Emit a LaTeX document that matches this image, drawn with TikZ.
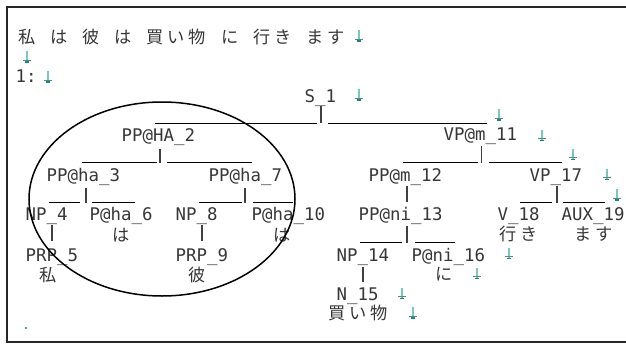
\documentclass[tikz,border=0pt]{standalone}
\usepackage{fontspec}
\setmonofont{DejaVu Sans Mono}
\newfontfamily\jfont{Noto Sans CJK JP}
\definecolor{txt}{RGB}{55,55,55}
\definecolor{retc}{RGB}{120,200,190}
\definecolor{retd}{RGB}{25,135,125}
\newcommand\jc[1]{\makebox[21pt][c]{#1}}
\newcommand\jsp{\hspace{11.2pt}}
\tikzset{
  lbl/.style={anchor=base west, inner sep=0pt, text=txt, font=\ttfamily\fontsize{17.4}{20}\selectfont},
  jp/.style={anchor=base west, inner sep=0pt, text=txt, font=\jfont\fontsize{17.2}{20}\selectfont},
  conn/.style={draw=black!75, line width=1.4pt},
  hbar/.style={draw=black, line width=1pt},
  retmark/.pic={
    \draw[retc, line width=2.4pt] (0,-6) -- (0,4);
    \draw[retc!70!black, line width=0.9pt] (-4,3.2) -- (4,3.2);
    \draw[retd, line width=1.8pt] (-1.6,5) -- (1.6,5);
  }
}
\begin{document}
\begin{tikzpicture}[x=1pt,y=-1pt]
\useasboundingbox (0,0) rectangle (626,345);
\fill[white] (0,0) rectangle (626,345);
% frame (open at the right)
\draw[black!85, line width=2pt] (660,7) -- (7,7) -- (7,342) -- (660,342);

% sentence and labels
\node[jp] (sent) at (16,44) {\jc{私}\jsp\jc{は}\jsp\jc{彼}\jsp\jc{は}\jsp\jc{買}\jc{い}\jc{物}\jsp\jc{に}\jsp\jc{行}\jc{き}\jsp\jc{ま}\jc{す}};
\node[lbl] (lab) at (15.5,82) {1:};

% tree nodes
\node[lbl] (s1)   at (304.5,102) {S\_1};
\node[lbl] (pp2)  at (121.5,141) {PP@HA\_2};
\node[lbl] (vp11) at (443.5,140) {VP@m\_11};
\node[lbl] (pp3)  at (46.5,181)  {PP@ha\_3};
\node[lbl] (pp7)  at (208.5,181) {PP@ha\_7};
\node[lbl] (pp12) at (368.5,181) {PP@m\_12};
\node[lbl] (vp17) at (529.5,181) {VP\_17};
\node[lbl] (np4)  at (25.5,220)  {NP\_4};
\node[lbl] (p6)   at (89.5,220)  {P@ha\_6};
\node[lbl] (np8)  at (175.5,220) {NP\_8};
\node[lbl] (p10)  at (251.5,220) {P@ha\_10};
\node[lbl] (pp13) at (358.5,220) {PP@ni\_13};
\node[lbl] (v18)  at (497.5,220) {V\_18};
\node[lbl] (aux19) at (561.5,220) {AUX\_19};
\node[lbl] (prp5) at (25.5,261)  {PRP\_5};
\node[lbl] (prp9) at (175.5,261) {PRP\_9};
\node[lbl] (np14) at (336.5,261) {NP\_14};
\node[lbl] (p16)  at (411.5,261) {P@ni\_16};
\node[lbl] (n15)  at (336.5,300) {N\_15};

% words
\node[jp] (w6)  at (110.5,241) {\jc{は}};
\node[jp] (w10) at (271.5,241) {\jc{は}};
\node[jp] (w18) at (497.5,240) {\jc{行}\jc{き}};
\node[jp] (w19) at (572.5,240) {\jc{ま}\jc{す}};
\node[jp] (w5)  at (37,281)    {\jc{私}};
\node[jp] (w9)  at (186.5,281) {\jc{彼}};
\node[jp] (w16) at (433,280)   {\jc{に}};
\node[jp] (w15) at (326,319)   {\jc{買}\jc{い}\jc{物}};

% connector points
\coordinate (s1t) at (321,106);   \coordinate (s1m) at (321,123.3);
\coordinate (s1l) at (155,123.3); \coordinate (s1a) at (317,123.3);
\coordinate (s1b) at (328,123.3); \coordinate (s1r) at (487,123.3);

\coordinate (p2t) at (160,149);   \coordinate (p2m) at (160,163);
\coordinate (p2l) at (82,162.7);  \coordinate (p2a) at (157,162.7);
\coordinate (p2b) at (167,162.7); \coordinate (p2r) at (252,162.7);

\coordinate (v11t) at (481.5,146);  \coordinate (v11m) at (481.5,163);
\coordinate (v11l) at (403,162.7);  \coordinate (v11a) at (478,162.7);
\coordinate (v11b) at (489,162.7);  \coordinate (v11r) at (562,162.7);

\coordinate (p3t) at (86,188);    \coordinate (p3m) at (86,203);
\coordinate (p3l) at (49,202.7);  \coordinate (p3a) at (80,202.7);
\coordinate (p3b) at (92,202.7);  \coordinate (p3r) at (135,202.7);

\coordinate (p7t) at (245,188);   \coordinate (p7m) at (245,203);
\coordinate (p7l) at (199,202.7); \coordinate (p7a) at (242,202.7);
\coordinate (p7b) at (253,202.7); \coordinate (p7r) at (293,202.7);

\coordinate (p12t) at (407,186);  \coordinate (p12m) at (407,202);

\coordinate (v17t) at (557,186);  \coordinate (v17m) at (557,203);
\coordinate (v17l) at (520,202.7); \coordinate (v17a) at (552,202.7);
\coordinate (v17b) at (563,202.7); \coordinate (v17r) at (605,202.7);

\coordinate (n4t) at (52,225);    \coordinate (n4m) at (52,241);
\coordinate (n8t) at (202,225);   \coordinate (n8m) at (202,241);

\coordinate (p13t) at (407,226);  \coordinate (p13m) at (407,243);
\coordinate (p13l) at (360,242.7); \coordinate (p13a) at (402,242.7);
\coordinate (p13b) at (415,242.7); \coordinate (p13r) at (455,242.7);

\coordinate (n14t) at (363,267);  \coordinate (n14m) at (363,282);

% connectors
\foreach \p in {s1,p2,v11,p3,p7,v17,p13}{
  \draw[conn] (\p t) -- (\p m);
  \draw[hbar] (\p l) -- (\p a);
  \draw[hbar] (\p b) -- (\p r);
}
\foreach \p in {p12,n4,n8,n14}{
  \draw[conn] (\p t) -- (\p m);
}

% circle round the PP@HA_2 subtree
\draw[black, line width=1.5pt] (162,199) ellipse [x radius=133, y radius=97];

% paragraph marks
\foreach \x/\y in {359/36, 27/57, 48/77, 359/95, 499/115, 542/135.5, 573/154.5,
                   607/174.5, 617/195, 509/253.5, 477/273.5, 402/293.5, 413/313}{
  \pic at (\x,\y) {retmark};
}
\fill[retc!80!black] (25,327) rectangle (27,329);
\end{tikzpicture}
\end{document}
